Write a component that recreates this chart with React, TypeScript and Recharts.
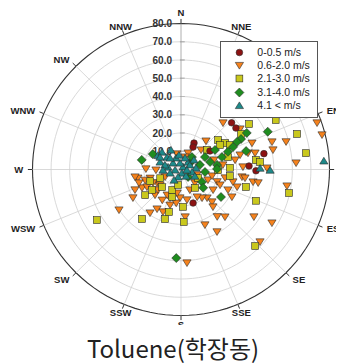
import React from 'react';
import { ScatterChart, Scatter, XAxis, YAxis, ReferenceLine, ReferenceDot, Legend } from 'recharts';

// ---------- data: [wind direction (deg, 0 = N, clockwise), concentration] ----------
const directions = ['N', 'NNE', 'NE', 'ENE', 'E', 'ESE', 'SE', 'SSE', 'S', 'SSW', 'SW', 'WSW', 'W', 'WNW', 'NW', 'NNW'];
const radiusTicks = [10, 20, 30, 40, 50, 60, 70, 80];
const seriesNames = ['0-0.5 m/s', '0.6-2.0 m/s', '2.1-3.0 m/s', '3.1-4.0 m/s', '4.1 < m/s'];
const chartTitle = 'Toluene(학장동)';

const speed0to05 = [
  [46.8, 37.4], [52.5, 37.3], [25.8, 16.1], [27.9, 13.9], [57, 18.6], [87, 36.7], [91, 40.4], [79, 45.5], [160.5, 19.5],
];
const speed06to20 = [
  [41.6, 34.1], [55.1, 38.8], [69.3, 40.9], [40.8, 20.6], [45.3, 15.2], [22.9, 9.8], [345.5, 8.8], [76, 32.8], [76, 37.2],
  [79.9, 29.6], [83.7, 22.7], [87.6, 33.4], [109, 9.1], [70.8, 77.6], [76, 78.3], [72.9, 51.3], [75, 58.6], [77.8, 50.7],
  [77.3, 40.9], [86.7, 62.1], [89, 46.3], [111.6, 15.6], [109, 20.6], [123, 20.6], [112, 22.7], [113.9, 27.7], [107.6, 31.7],
  [97.1, 33.1], [100, 39.4], [118.8, 31.3], [138, 21], [144, 19.3], [136.8, 24.4], [140, 26.8], [169, 17], [182, 15.6],
  [189, 13.1], [150, 17.4], [200.8, 16.7], [175, 26.1], [143, 32.4], [137.7, 35.2], [123.5, 47.1], [157, 33], [150.4, 39.3],
  [100, 42.2], [99, 57.8], [120.9, 57.1], [133, 58.2], [176.4, 51.3], [134.6, 10.5], [157, 12.2], [271, 18.9], [268.7, 13.5],
  [258.5, 23.7], [254, 17.3], [245.7, 27.2], [244.3, 23.3], [242.3, 20.7], [240.2, 14.9], [244.5, 9.5], [239, 30.2], [225, 19.8],
  [208, 15.9], [253, 20.2], [244, 16.8], [233, 14.1], [236.4, 40.1], [215, 29.1], [210.8, 25.2], [202.6, 25.2], [260.6, 25.1],
  [251.9, 23.8], [211, 19.6], [196.8, 20.4], [188, 18.6], [228, 16.7], [18, 7.2], [73.7, 18.5], [102, 17.1], [101, 24.2],
  [103.7, 28.8], [97.7, 34.8],
];
const speed21to30 = [
  [55.8, 44.3], [58.9, 37.7], [50.9, 25.7], [58.5, 27.8], [63.1, 29.6], [57.5, 24.9], [52.6, 17.6], [75, 26.2], [82.7, 40.7],
  [88, 26.4], [91, 19.9], [62, 57.8], [72.7, 65.5], [82.4, 67.9], [84.5, 42.8], [97.8, 26.6], [105.3, 36.3], [113, 43.9],
  [177, 20.5], [177, 28.8], [197.6, 15.8], [143, 12.6], [102.5, 59.6], [136.4, 57.9], [249, 17.8], [226.7, 14], [234, 23.9],
  [203, 12.2], [238.6, 53.1], [217.8, 34.3], [197.6, 28.5], [195.6, 24.2], [234.3, 19.2], [117, 10.3], [190.6, 8.6], [247, 12.2],
];
const speed31to40 = [
  [284, 21.8], [299, 17.4], [60.5, 40.7], [62.7, 36.4], [63.4, 33.7], [66.3, 30.6], [73.9, 36.5], [59.7, 21.2], [62.2, 14.6],
  [72.9, 23.1], [75.3, 16.2], [53, 6], [76, 10.5], [82.7, 19.6], [96, 13], [66.1, 51.1], [121, 13.2], [130, 15.6], [89, 19.4],
  [125, 26.3], [137, 5.6], [183, 48.6], [41, 9], [69, 27.1],
];
const speedOver41 = [
  [310, 5.6], [38, 1.8], [84, 8.1], [312, 10.1], [352, 3.6], [290, 12], [281, 7.1], [265, 3.2], [43, 5.6], [252, 6.2],
  [165, 2], [302, 14.7], [313, 14], [337, 6.9], [19, 6.7], [62, 5.4], [201, 4.4], [143, 4.5], [213, 6.9], [103, 6.1],
  [86.5, 77.1], [89, 42.6], [90.4, 48], [286, 9], [317, 8.6], [352, 8], [53, 8.7], [268, 9.7], [95, 3.2], [333, 12],
  [301, 13.2], [116, 8.3],
];

// ---------- styling ----------
const MAX_R = 80;
const LABEL_R = 85;
const LABEL_FONT = '"Liberation Sans", Arial, sans-serif';
const EDGE = '#2a2a2a';

const rad = (d: number) => (d * Math.PI) / 180;
const toXY = (arr: number[][]) =>
  arr.map(([dir, conc]) => ({ x: conc * Math.sin(rad(dir)), y: conc * Math.cos(rad(dir)), dir, conc }));

type Kind = 'circle' | 'down' | 'square' | 'diamond' | 'up';
const seriesStyles: { kind: Kind; color: string }[] = [
  { kind: 'circle', color: '#8c1212' },
  { kind: 'down', color: '#f6821c' },
  { kind: 'square', color: '#c9c81c' },
  { kind: 'diamond', color: '#1f8c1f' },
  { kind: 'up', color: '#1d8a8a' },
];

function Marker({ kind, cx, cy, color }: { kind: Kind; cx: number; cy: number; color: string }) {
  const common = { fill: color, stroke: EDGE, strokeWidth: 0.6 };
  switch (kind) {
    case 'circle':
      return <circle cx={cx} cy={cy} r={3.3} {...common} />;
    case 'down':
      return <polygon points={`${cx - 4.1},${cy - 3.1} ${cx + 4.1},${cy - 3.1} ${cx},${cy + 3.6}`} {...common} />;
    case 'square':
      return <rect x={cx - 3.4} y={cy - 3.4} width={6.8} height={6.8} {...common} />;
    case 'diamond':
      return <polygon points={`${cx},${cy - 4.5} ${cx + 4.5},${cy} ${cx},${cy + 4.5} ${cx - 4.5},${cy}`} {...common} />;
    default:
      return <polygon points={`${cx - 4.1},${cy + 3.1} ${cx + 4.1},${cy + 3.1} ${cx},${cy - 3.6}`} {...common} />;
  }
}

const makeShape = (i: number) => (p: any) => (
  <Marker kind={seriesStyles[i].kind} color={seriesStyles[i].color} cx={p.cx} cy={p.cy} />
);
const emptyShape = () => <g />;

const ringData = radiusTicks.map((r) =>
  Array.from({ length: 121 }, (_, k) => ({ x: r * Math.sin(rad(k * 3)), y: r * Math.cos(rad(k * 3)) }))
);
const spokeData = directions.map((_, i) => [
  { x: 0, y: 0 },
  { x: MAX_R * Math.sin(rad(i * 22.5)), y: MAX_R * Math.cos(rad(i * 22.5)) },
]);
const radiusLabelData = radiusTicks.map((r) => ({ x: 0, y: r, label: r.toFixed(1) }));

const renderLegend = () => (
  <div
    style={{
      width: 98,
      height: 77,
      boxSizing: 'border-box',
      border: '1px solid #555',
      background: '#fff',
      paddingTop: 4.5,
    }}
  >
    {seriesNames.map((name, i) => (
      <div key={name} style={{ height: 13.1, display: 'flex', alignItems: 'center' }}>
        <svg width={36} height={13} style={{ display: 'block' }}>
          <Marker kind={seriesStyles[i].kind} color={seriesStyles[i].color} cx={18.4} cy={6.5} />
        </svg>
        <span style={{ fontSize: 10.5, fontFamily: LABEL_FONT, color: '#222', lineHeight: '13px', whiteSpace: 'nowrap' }}>
          {name}
        </span>
      </div>
    ))}
  </div>
);

const seriesData = [speed0to05, speed06to20, speed21to30, speed31to40, speedOver41].map(toXY);
const drawOrder = [1, 2, 0, 3, 4];

export default function App() {
  return (
    <div style={{ position: 'relative', width: 336, height: 356 }}>
      <ScatterChart width={336} height={317} margin={{ top: 15.5, left: 24.5, right: 14.5, bottom: 9.5 }}>
        <XAxis type="number" dataKey="x" domain={[-MAX_R, MAX_R]} hide />
        <YAxis type="number" dataKey="y" domain={[-MAX_R, MAX_R]} hide />
        {ringData.map((d, i) => (
          <Scatter
            key={`ring-${i}`}
            data={d}
            line={{ stroke: i === ringData.length - 1 ? '#333' : '#cfcfcf', strokeWidth: i === ringData.length - 1 ? 1.1 : 0.8 }}
            lineType="joint"
            shape={emptyShape}
            legendType="none"
            isAnimationActive={false}
          />
        ))}
        {spokeData.map((d, i) => (
          <Scatter
            key={`spoke-${i}`}
            data={d}
            line={{ stroke: i === 0 ? '#9a9a9a' : '#cfcfcf', strokeWidth: 0.8 }}
            lineType="joint"
            shape={emptyShape}
            legendType="none"
            isAnimationActive={false}
          />
        ))}
        {radiusTicks.map((r) => (
          <ReferenceLine
            key={`rt-${r}`}
            segment={[{ x: -0.6, y: r }, { x: 2, y: r }]}
            stroke="#555"
            strokeWidth={0.8}
            ifOverflow="visible"
          />
        ))}
        {directions.map((name, i) => (
          <ReferenceLine
            key={`tick-${name}`}
            segment={[
              { x: MAX_R * Math.sin(rad(i * 22.5)), y: MAX_R * Math.cos(rad(i * 22.5)) },
              { x: 82.5 * Math.sin(rad(i * 22.5)), y: 82.5 * Math.cos(rad(i * 22.5)) },
            ]}
            stroke="#333"
            strokeWidth={1}
            ifOverflow="visible"
          />
        ))}
        <Scatter
          data={radiusLabelData}
          shape={(p: any) => (
            <text
              x={p.cx - 9}
              y={p.cy}
              textAnchor="end"
              dominantBaseline="central"
              fontSize={10}
              fontWeight="bold"
              fontFamily={LABEL_FONT}
              fill="#333"
            >
              {p.payload.label}
            </text>
          )}
          legendType="none"
          isAnimationActive={false}
        />
        {drawOrder.map((si) => (
          <Scatter
            key={seriesNames[si]}
            name={seriesNames[si]}
            data={seriesData[si]}
            fill={seriesStyles[si].color}
            shape={makeShape(si)}
            isAnimationActive={false}
          />
        ))}
        {directions.map((name, i) => {
          const s = Math.sin(rad(i * 22.5));
          const c = Math.cos(rad(i * 22.5));
          const anchor = s > 0.5 ? 'start' : s < -0.5 ? 'end' : 'middle';
          const r = c > 0.95 ? LABEL_R + 1 : LABEL_R;
          return (
            <ReferenceDot
              key={`lbl-${name}`}
              x={r * s}
              y={r * c}
              r={0}
              ifOverflow="visible"
              shape={(p: any) => (
                <text
                  x={p.cx}
                  y={p.cy}
                  textAnchor={anchor}
                  dominantBaseline="central"
                  fontSize={9.5}
                  fontWeight="bold"
                  fontFamily={LABEL_FONT}
                  fill="#222"
                >
                  {name}
                </text>
              )}
            />
          );
        })}
        <Legend
          layout="vertical"
          align="center"
          verticalAlign="middle"
          content={renderLegend}
          wrapperStyle={{ position: 'absolute', left: 212.3, top: 32.7, width: 98, height: 77 }}
        />
      </ScatterChart>
      <div
        style={{
          position: 'absolute',
          left: 0,
          width: 330,
          top: 328,
          textAlign: 'center',
          fontSize: 24,
          lineHeight: '24px',
          fontFamily: '"Noto Sans CJK KR", "Noto Sans", sans-serif',
          color: '#222',
        }}
      >
        {chartTitle}
      </div>
    </div>
  );
}
